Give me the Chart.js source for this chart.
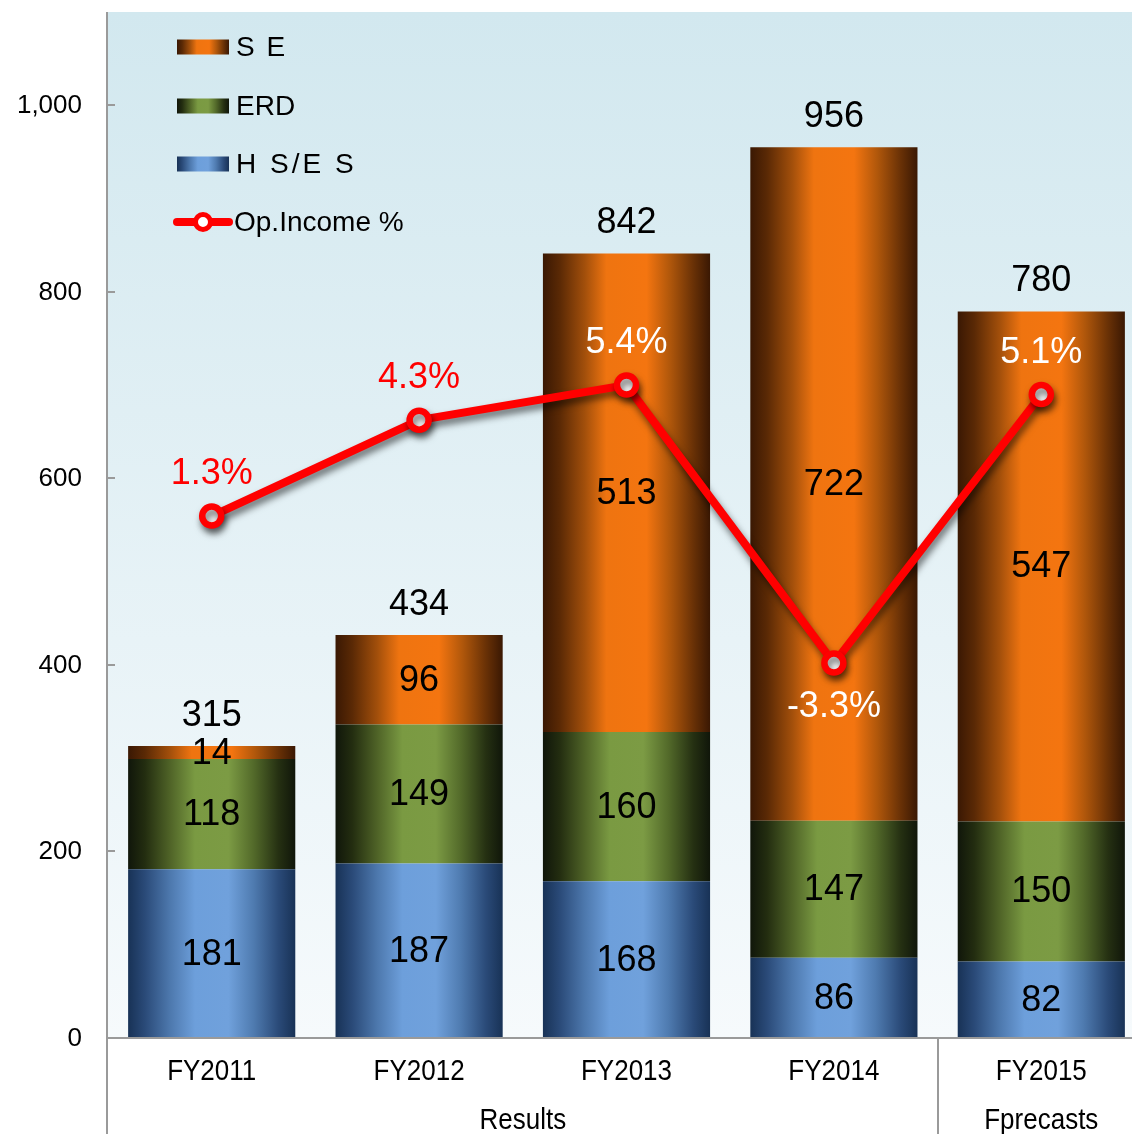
<!DOCTYPE html>
<html>
<head>
<meta charset="utf-8">
<script src="https://cdn.jsdelivr.net/npm/chart.js@4.4.1/dist/chart.umd.min.js"></script>
<style>
  html, body { margin: 0; padding: 0; background: #ffffff; overflow: hidden; }
  #wrap { width: 1145px; height: 1134px; position: relative; }
  canvas { display: block; }
</style>
</head>
<body>
<div id="wrap"><canvas id="c" width="1145" height="1134"></canvas></div>
<script>
// ---- data ----
const categories = ['FY2011', 'FY2012', 'FY2013', 'FY2014', 'FY2015'];
const hsEs = [181, 187, 168, 86, 82];
const erd = [118, 149, 160, 147, 150];
const se = [14, 96, 513, 722, 547];
const totals = [315, 434, 842, 956, 780];
const opIncomePct = [1.3, 4.3, 5.4, -3.3, 5.1];
const yTickValues = [0, 200, 400, 600, 800, 1000];
const groupLabels = ['Results', 'Fprecasts'];
const groupSpans = [4, 1];

// ---- styles ----
const FONT = '"Liberation Sans", Arial, Helvetica, sans-serif';
const stopsSE = [[0, '#3a1803'], [0.1, '#5a2905'], [0.25, '#a24f0b'], [0.38, '#ef7410'], [0.62, '#f47510'], [0.76, '#b0570b'], [0.9, '#693106'], [1, '#3a1803']];
const stopsERD = [[0, '#10160a'], [0.1, '#232d10'], [0.25, '#4f6327'], [0.4, '#7a9a42'], [0.6, '#7c9b44'], [0.75, '#536a2a'], [0.9, '#253012'], [1, '#10160a']];
const stopsHS = [[0, '#183256'], [0.1, '#2a4a78'], [0.25, '#4d78ad'], [0.4, '#6d9fdb'], [0.6, '#70a1dc'], [0.75, '#4f7bb0'], [0.9, '#2a4a78'], [1, '#183256']];

function hGrad(ctx, left, right, stops) {
  const g = ctx.createLinearGradient(left, 0, right, 0);
  stops.forEach(s => g.addColorStop(s[0], s[1]));
  return g;
}
function textS(ctx, txt, x, y, sy) {
  ctx.save();
  ctx.translate(x, y);
  ctx.scale(1, sy);
  ctx.fillText(txt, 0, 0);
  ctx.restore();
}
const BAR_PCT = 0.806;
function barBg(stops, fallback) {
  return function (c) {
    const chart = c.chart;
    if (!chart.chartArea || !chart.scales || !chart.scales.x) return fallback;
    const xs = chart.scales.x;
    const cx = xs.getPixelForValue(c.dataIndex);
    const w = xs.width / categories.length * BAR_PCT;
    return hGrad(chart.ctx, cx - w / 2, cx + w / 2, stops);
  };
}

const decorPlugin = {
  id: 'decor',
  beforeDraw(chart) {
    const { ctx, chartArea: a } = chart;
    ctx.save();
    const g = ctx.createLinearGradient(0, a.top, 0, a.bottom);
    g.addColorStop(0, '#d2e8ef');
    g.addColorStop(1, '#f6fafc');
    ctx.fillStyle = g;
    ctx.fillRect(a.left, a.top, a.right - a.left, a.bottom - a.top);
    ctx.restore();
  },
  beforeDatasetDraw(chart, args) {
    if (chart.data.datasets[args.index].type === 'line') {
      const ctx = chart.ctx;
      ctx.save();
      ctx.shadowColor = 'rgba(0,0,0,0.55)';
      ctx.shadowBlur = 7;
      ctx.shadowOffsetX = 2;
      ctx.shadowOffsetY = 5;
    }
  },
  afterDatasetDraw(chart, args) {
    if (chart.data.datasets[args.index].type === 'line') {
      chart.ctx.restore();
    }
  },
  afterDatasetsDraw(chart) {
    const { ctx, chartArea: a, scales } = chart;
    const xs = scales.x, ys = scales.y;
    ctx.save();
    ctx.textAlign = 'center';
    ctx.textBaseline = 'middle';
    // segment labels
    const segs = [hsEs, erd, se];
    ctx.font = '36px ' + FONT;
    ctx.fillStyle = '#000000';
    categories.forEach((cat, i) => {
      const cx = xs.getPixelForValue(i);
      let base = 0;
      segs.forEach(arr => {
        const v = arr[i];
        const yMid = ys.getPixelForValue(base + v / 2);
        ctx.fillText(String(v), cx, yMid + 1);
        base += v;
      });
      const top = ys.getPixelForValue(base);
      ctx.fillText(String(totals[i]), cx, top - 30);
    });
    // percent labels
    const lineMeta = chart.getDatasetMeta(3);
    categories.forEach((cat, i) => {
      const pt = lineMeta.data[i];
      const barTop = ys.getPixelForValue(hsEs[i] + erd[i] + se[i]);
      const inside = pt.y > barTop;
      ctx.fillStyle = inside ? '#ffffff' : '#ff0000';
      const v = opIncomePct[i];
      const y = v < 0 ? pt.y + 44 : pt.y - 42;
      ctx.fillText(v.toFixed(1) + '%', pt.x, y);
    });
    ctx.restore();
  },
  afterDraw(chart) {
    const { ctx, chartArea: a, scales } = chart;
    const xs = scales.x, ys = scales.y;
    const H = chart.height;
    ctx.save();
    ctx.strokeStyle = '#9a9a9a';
    ctx.lineWidth = 2;
    // y axis line
    ctx.beginPath();
    ctx.moveTo(a.left - 1, a.top);
    ctx.lineTo(a.left - 1, H);
    ctx.stroke();
    // x axis line
    ctx.beginPath();
    ctx.moveTo(a.left, a.bottom);
    ctx.lineTo(a.right, a.bottom);
    ctx.stroke();
    // y ticks inward + labels
    ctx.fillStyle = '#000000';
    ctx.font = '26px ' + FONT;
    ctx.textAlign = 'right';
    ctx.textBaseline = 'middle';
    yTickValues.forEach(v => {
      const y = Math.round(ys.getPixelForValue(v));
      ctx.beginPath();
      ctx.moveTo(a.left, y);
      ctx.lineTo(a.left + 7, y);
      ctx.stroke();
      ctx.fillText(v.toLocaleString('en-US'), 82, y + 1);
    });
    // group separators and labels
    const catW = (a.right - a.left) / categories.length;
    let start = 0;
    ctx.textAlign = 'center';
    groupLabels.forEach((lbl, gi) => {
      const x0 = a.left + start * catW;
      const x1 = a.left + (start + groupSpans[gi]) * catW;
      textS(ctx, lbl, (x0 + x1) / 2, a.bottom + 83, 1.12);
      if (gi < groupLabels.length - 1) {
        ctx.beginPath();
        ctx.moveTo(Math.round(x1), a.bottom);
        ctx.lineTo(Math.round(x1), H);
        ctx.stroke();
      }
      start += groupSpans[gi];
    });
    // category labels
    categories.forEach((cat, i) => {
      textS(ctx, cat, xs.getPixelForValue(i), a.bottom + 34, 1.12);
    });
    // legend
    const lx = 177, lw = 52, lh = 15;
    const items = [
      { text: 'S E', stops: stopsSE, y: 47, spacing: '2px' },
      { text: 'ERD', stops: stopsERD, y: 106, spacing: '0px' },
      { text: 'H S/E S', stops: stopsHS, y: 164, spacing: '3px' }
    ];
    ctx.textAlign = 'left';
    ctx.font = '28px ' + FONT;
    items.forEach(it => {
      ctx.fillStyle = hGrad(ctx, lx, lx + lw, it.stops);
      ctx.fillRect(lx, it.y - lh / 2, lw, lh);
      ctx.fillStyle = '#000000';
      if ('letterSpacing' in ctx) ctx.letterSpacing = it.spacing;
      ctx.fillText(it.text, 236, it.y + 1);
    });
    if ('letterSpacing' in ctx) ctx.letterSpacing = '0px';
    // line legend
    const ly = 222;
    ctx.strokeStyle = '#ff0000';
    ctx.lineWidth = 8;
    ctx.lineCap = 'round';
    ctx.beginPath();
    ctx.moveTo(177, ly);
    ctx.lineTo(229, ly);
    ctx.stroke();
    ctx.lineWidth = 5;
    ctx.fillStyle = '#ffffff';
    ctx.beginPath();
    ctx.arc(203, ly, 7.5, 0, Math.PI * 2);
    ctx.fill();
    ctx.stroke();
    ctx.fillStyle = '#000000';
    ctx.fillText('Op.Income %', 234, ly + 1);
    ctx.restore();
  }
};

new Chart(document.getElementById('c'), {
  data: {
    labels: categories,
    datasets: [
      { type: 'bar', label: 'HS/ES', data: hsEs, backgroundColor: barBg(stopsHS, '#6d9fdb'), stack: 's', order: 2, yAxisID: 'y', barPercentage: BAR_PCT, categoryPercentage: 1 },
      { type: 'bar', label: 'ERD', data: erd, backgroundColor: barBg(stopsERD, '#7a9a42'), stack: 's', order: 2, yAxisID: 'y', barPercentage: BAR_PCT, categoryPercentage: 1 },
      { type: 'bar', label: 'SE', data: se, backgroundColor: barBg(stopsSE, '#f47510'), stack: 's', order: 2, yAxisID: 'y', barPercentage: BAR_PCT, categoryPercentage: 1 },
      { type: 'line', label: 'Op.Income %', data: opIncomePct, yAxisID: 'y2', order: 0,
        borderColor: '#ff0000', borderWidth: 8, tension: 0,
        pointRadius: 9.5, pointBorderWidth: 6.5, pointBackgroundColor: '#ffffff', pointBorderColor: '#ff0000' }
    ]
  },
  options: {
    responsive: false,
    maintainAspectRatio: false,
    animation: false,
    devicePixelRatio: 1,
    layout: { autoPadding: false, padding: { top: 12, left: 0, right: 0, bottom: 0 } },
    plugins: { legend: { display: false }, tooltip: { enabled: false } },
    scales: {
      x: {
        stacked: true,
        grid: { display: false, drawTicks: false },
        border: { display: false },
        ticks: { display: false },
        afterFit(s) { s.height = 96; }
      },
      y: {
        stacked: true,
        min: 0, max: 1100,
        grid: { display: false, drawTicks: false },
        border: { display: false },
        ticks: { display: false, stepSize: 200 },
        afterFit(s) { s.width = 108; }
      },
      y2: {
        display: false,
        min: -15.03, max: 17.07
      }
    }
  },
  plugins: [decorPlugin]
});
</script>
</body>
</html>
